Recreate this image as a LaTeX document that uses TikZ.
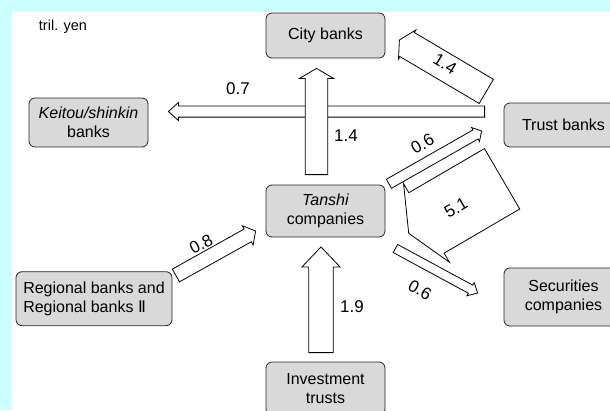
\documentclass[tikz,border=0pt]{standalone}
\usepackage{fontspec}
\setmainfont{Liberation Sans}
\newfontfamily\romanfont{DejaVu Sans}
\usetikzlibrary{calc}
\definecolor{bgcyan}{RGB}{204,255,255}
\definecolor{boxgray}{RGB}{217,217,217}
\tikzset{
 bank/.style={draw=black!85, fill=boxgray, rounded corners=6pt, minimum width=119pt, align=center, inner sep=2pt, line width=0.8pt, font=\fontsize{16}{19}\selectfont},
 flow/.style={draw, fill=white, line width=0.8pt, line join=miter},
 amount/.style={font=\fontsize{17}{19}\selectfont, inner sep=1pt},
}
% block arrow: tail, tip, half width, half head width, head length
\newcommand{\flowarrow}[5]{%
 \coordinate (hb) at ($(#2)!#5!(#1)$);
 \draw[flow] ($(#1)!#3!90:(#2)$) -- ($(hb)!#3!90:(#2)$) -- ($(hb)!#4!90:(#2)$)
  -- (#2) -- ($(hb)!#4!-90:(#2)$) -- ($(hb)!#3!-90:(#2)$) -- ($(#1)!#3!-90:(#2)$) -- cycle;
}
\begin{document}
\begin{tikzpicture}[x=1pt, y=-1pt]
 \useasboundingbox (0,0) rectangle (610,410);
 \clip (0,0) rectangle (610,410);
 \fill[bgcyan] (0,0) rectangle (610,410);
 \fill[white] (12,12) rectangle (610,410);
 \node[font=\fontsize{14.5}{16}\selectfont] (unit) at (63,27) {tril. yen};
 % institutions
 \node[bank, minimum height=45pt] (city) at (325.5,35.5) {City banks};
 \node[bank, minimum height=49pt] (keitou) at (88.5,122.5) {\textit{Keitou/shinkin}\\banks};
 \node[bank, minimum height=44pt] (trust) at (563.5,125) {Trust banks};
 \node[bank, minimum height=52pt] (tanshi) at (325.5,211) {\textit{Tanshi}\\companies};
 \node[bank, minimum height=54pt, minimum width=156pt, align=left] (regional) at (94,298.7) {Regional banks and\\Regional banks {\romanfont Ⅱ}};
 \node[bank, minimum height=58pt] (securities) at (563.5,297) {Securities\\companies};
 \node[bank, minimum height=53pt] (invest) at (325.5,388.5) {Investment\\trusts};
 % arrow ends
 \coordinate (tk1) at ($(trust.west)+(-19,-13.5)$);
 \coordinate (tk2) at ($(keitou.east)+(20,-11)$);
 \coordinate (tc1) at ($(tanshi.north)+(-9,-10)$);
 \coordinate (tc2) at ($(city.south)+(-9,10)$);
 \coordinate (rc1) at ($(trust.west)+(-17.3,-33.6)$);
 \coordinate (rc2) at ($(city.east)+(14,4.5)$);
 \coordinate (tr1) at ($(tanshi.east)+(3.5,-27.2)$);
 \coordinate (tr2) at ($(trust.west)+(-22,6)$);
 \coordinate (rt1) at ($(trust.west)+(-1.5,53.8)$);
 \coordinate (rt2) at ($(tanshi.east)+(23.3,22.3)$);
 \coordinate (gt1) at ($(regional.east)+(3.5,-23.2)$);
 \coordinate (gt2) at ($(tanshi.west)+(-10,20)$);
 \coordinate (it1) at ($(invest.north)+(-4.5,-9)$);
 \coordinate (it2) at ($(tanshi.south)+(-4.5,9.5)$);
 \coordinate (ts1) at ($(tanshi.east)+(10,37.5)$);
 \coordinate (ts2) at ($(securities.west)+(-26,-4)$);
 % flows
 \flowarrow{tk1}{tk2}{5.6pt}{9pt}{10pt}
 \flowarrow{tc1}{tc2}{11.3pt}{17pt}{10pt}
 \flowarrow{rc1}{rc2}{14pt}{17pt}{9pt}
 \flowarrow{tr1}{tr2}{5.2pt}{8pt}{7pt}
 \flowarrow{rt1}{rt2}{35pt}{45.5pt}{20.6pt}
 \flowarrow{gt1}{gt2}{7.3pt}{11pt}{9pt}
 \flowarrow{it1}{it2}{12.3pt}{19pt}{20pt}
 \flowarrow{ts1}{ts2}{4.6pt}{7.5pt}{8pt}
 % amounts
 \node[amount] (v07) at (238,89) {0.7};
 \node[amount] (v14a) at (346,136) {1.4};
 \node[amount, rotate=-31] (v14b) at (445,64) {1.4};
 \node[amount, rotate=30] (v06a) at (422.5,144) {0.6};
 \node[amount, rotate=30] (v51) at (456,208) {5.1};
 \node[amount, rotate=28] (v08) at (201,244) {0.8};
 \node[amount] (v19) at (352,306.5) {1.9};
 \node[amount, rotate=-29] (v06b) at (420,290) {0.6};
\end{tikzpicture}
\end{document}
